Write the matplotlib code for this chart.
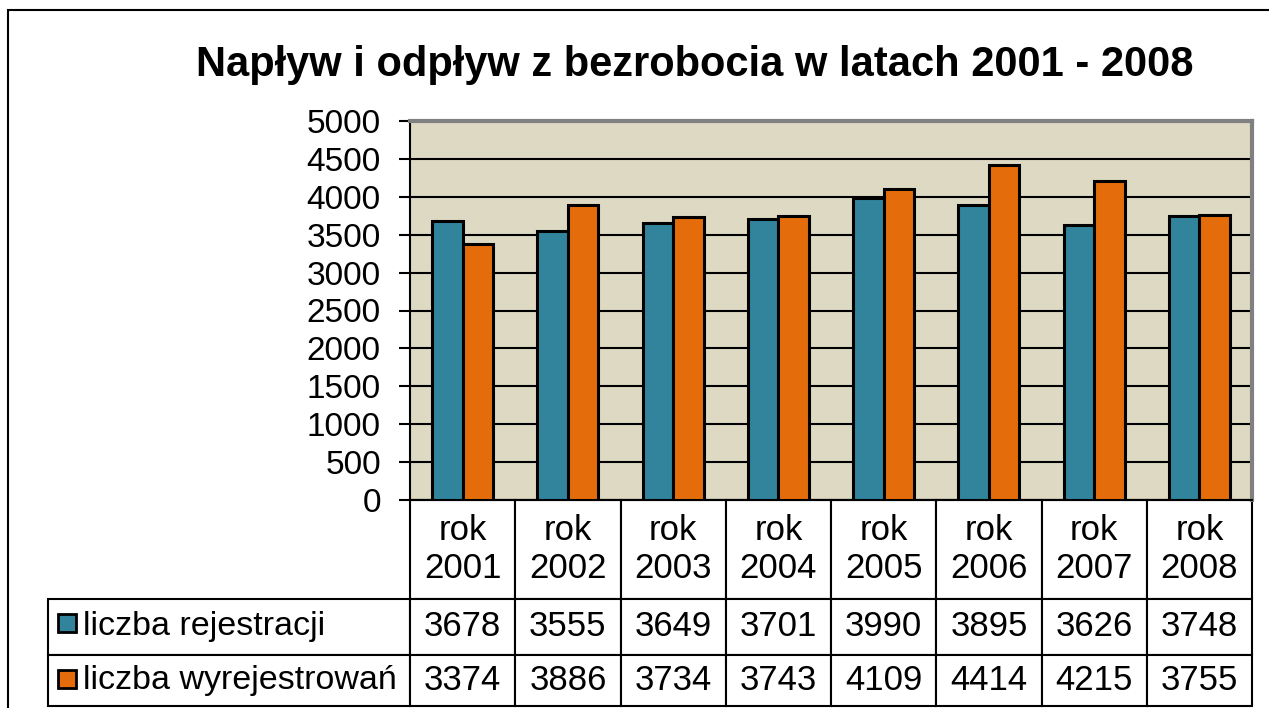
import matplotlib.pyplot as plt
from matplotlib.patches import Rectangle
import numpy as np

# data
lata = ['rok\n2001', 'rok\n2002', 'rok\n2003', 'rok\n2004',
        'rok\n2005', 'rok\n2006', 'rok\n2007', 'rok\n2008']
rejestracje = [3678, 3555, 3649, 3701, 3990, 3895, 3626, 3748]
wyrejestrowania = [3374, 3886, 3734, 3743, 4109, 4414, 4215, 3755]
serie = ['liczba rejestracji', 'liczba wyrejestrowań']
kolory = ['#31849B', '#E46C0A']

plt.rcParams['font.family'] = ['Liberation Sans', 'DejaVu Sans']

W, H = 1269, 708
fig = plt.figure(figsize=(W / 100, H / 100), dpi=100)

# outer chart frame (cut off on right and bottom)
fig.add_artist(Rectangle((8 / W, -0.1), 2, 1 - 10 / H + 0.1, transform=fig.transFigure,
                         fill=False, edgecolor='black', lw=1.5))

fig.text(695 / W, 1 - 65 / H, 'Napływ i odpływ z bezrobocia w latach 2001 - 2008',
         ha='center', va='center', fontsize=30, fontweight='bold')

ax = fig.add_axes([410 / W, (H - 500) / H, (1252 - 410) / W, (500 - 121) / H])
ax.set_facecolor('#DDD9C3')

x = np.arange(len(lata))
w = 0.29
ax.bar(x - w / 2, rejestracje, w, color=kolory[0], edgecolor='black', lw=2.2, zorder=3)
ax.bar(x + w / 2, wyrejestrowania, w, color=kolory[1], edgecolor='black', lw=2.2, zorder=3)

ax.set_xlim(-0.5, len(lata) - 0.5)
ax.set_ylim(0, 5000)
ax.set_yticks(np.arange(0, 5001, 500))
ax.yaxis.grid(True, color='black', lw=1.5)
ax.set_axisbelow(True)
ax.set_xticks([])
ax.tick_params(axis='y', direction='out', length=8, width=1.5, labelsize=24, pad=13)

ax.spines['left'].set_color('black')
ax.spines['left'].set_linewidth(1.5)
ax.spines['bottom'].set_linewidth(1.5)
for s in ['top', 'right']:
    ax.spines[s].set_color('#808080')
    ax.spines[s].set_linewidth(3)

# data table below the plot, first column holds the series names
wiersze = [[serie[0]] + rejestracje, [serie[1]] + wyrejestrowania]
szer = [362] + [105.25] * len(lata)
tab = ax.table(cellText=wiersze, colLabels=[''] + lata,
               colWidths=[s / sum(szer) for s in szer], cellLoc='center',
               bbox=[(48 - 410) / 842, (500 - 706) / 379, (1252 - 48) / 842, 206 / 379])
tab.auto_set_font_size(False)
tab.set_fontsize(25)
wys = [99, 56, 51]
for (r, c), cell in tab.get_celld().items():
    cell.set_height(wys[r])
    cell.set_linewidth(1.5)
    if c == 0:
        if r == 0:
            cell.visible_edges = ''
        else:
            cell.get_text().set_horizontalalignment('left')
            cell.get_text().set_fontsize(24.5)
            cell.PAD = 35 / 362

# legend keys in row labels
for i, yc in enumerate([622.5, 679]):
    fig.add_artist(Rectangle((58 / W, 1 - (yc + 9) / H), 18 / W, 18 / H,
                             transform=fig.transFigure, facecolor=kolory[i],
                             edgecolor='black', lw=2))

fig.savefig('out.png', dpi=100)
